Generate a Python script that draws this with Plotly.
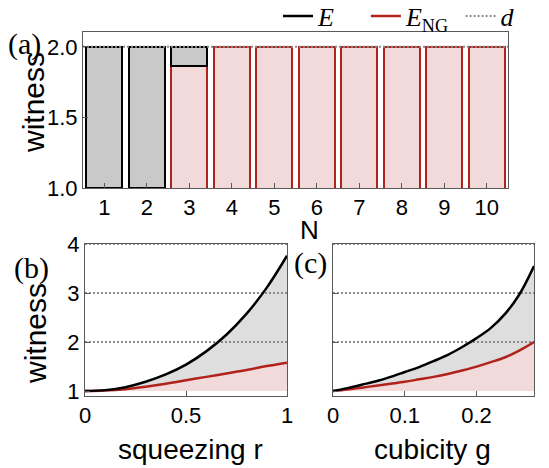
import plotly.graph_objects as go

# ---------------- data ----------------
N = [1, 2, 3, 4, 5, 6, 7, 8, 9, 10]
N_labels = ["1", "2", "3", "4", "5", "6", "7", "8", "9", "10"]
E_bar = [2.0, 2.0, 2.0, 2.0, 2.0, 2.0, 2.0, 2.0, 2.0, 2.0]
ENG_bar = [1.0, 1.0, 1.865, 2.0, 2.0, 2.0, 2.0, 2.0, 2.0, 2.0]
d_a = 2

r = [0.0, 0.1, 0.2, 0.3, 0.4, 0.5, 0.6, 0.7, 0.8, 0.9, 1.0]
E_r = [1.00, 1.02, 1.08, 1.19, 1.34, 1.54, 1.81, 2.15, 2.58, 3.11, 3.76]
ENG_r = [1.00, 1.01, 1.04, 1.09, 1.15, 1.22, 1.29, 1.36, 1.43, 1.51, 1.58]

g = [0.0, 0.02, 0.04, 0.06, 0.08, 0.10, 0.12, 0.14, 0.16, 0.18, 0.20, 0.22, 0.24, 0.26, 0.28]
E_g = [1.00, 1.06, 1.13, 1.20, 1.29, 1.39, 1.49, 1.61, 1.74, 1.90, 2.08, 2.29, 2.58, 2.98, 3.55]
ENG_g = [1.00, 1.03, 1.07, 1.11, 1.15, 1.19, 1.24, 1.29, 1.35, 1.42, 1.50, 1.59, 1.69, 1.83, 2.00]

d_levels = [2, 3, 4]
witness_min = 1

# ---------------- style ----------------
W, H = 549, 468
BLACK = "#000000"
RED = "#b0221b"
GRAY_BAR = "#c9c9c9"
GRAY_FILL = "#dedede"
PINK = "#f2dada"
DOT = "#8a8a8a"
FRAME = "#5a5a5a"
SANS = "Liberation Sans, Arial, sans-serif"
SERIF = "Liberation Serif, Times New Roman, serif"
NB = "\u00a0"


def px(x):
    return x / W


def py(y):
    return 1 - y / H


fig = go.Figure()

# ----- panel (a): bars -----
red_line_w = [0 if v <= witness_min else 2 for v in ENG_bar]
gray_heights = [e - n for e, n in zip(E_bar, ENG_bar)]
gray_line_w = [2 if h > 0 else 0 for h in gray_heights]

fig.add_trace(go.Bar(
    x=N, y=ENG_bar, base=0, width=0.84,
    marker=dict(color=PINK, line=dict(color=RED, width=red_line_w)),
    xaxis="x", yaxis="y", showlegend=False, hoverinfo="skip"))
fig.add_trace(go.Bar(
    x=N, y=gray_heights, base=ENG_bar, width=0.84,
    marker=dict(color=GRAY_BAR, line=dict(color=BLACK, width=gray_line_w)),
    xaxis="x", yaxis="y", showlegend=False, hoverinfo="skip"))
fig.add_trace(go.Scatter(
    x=[N[0] - 0.5, N[-1] + 0.5], y=[d_a, d_a], mode="lines",
    line=dict(color=DOT, width=2, dash="2px,2px"),
    xaxis="x", yaxis="y", name="<i>d</i>", legendrank=3, showlegend=True,
    cliponaxis=False))

# ----- panels (b) and (c): curves -----
def curve_panel(xv, Ev, Nv, xa, ya, legend):
    # fills
    fig.add_trace(go.Scatter(
        x=xv, y=[witness_min] * len(xv), mode="lines",
        line=dict(width=0, color=PINK), xaxis=xa, yaxis=ya,
        showlegend=False, hoverinfo="skip"))
    fig.add_trace(go.Scatter(
        x=xv, y=Nv, mode="lines", fill="tonexty", fillcolor=PINK,
        line=dict(color=RED, width=0, shape="spline", smoothing=1),
        xaxis=xa, yaxis=ya, showlegend=False, hoverinfo="skip"))
    fig.add_trace(go.Scatter(
        x=xv, y=Ev, mode="lines", fill="tonexty", fillcolor=GRAY_FILL,
        line=dict(color=BLACK, width=0, shape="spline", smoothing=1),
        xaxis=xa, yaxis=ya, showlegend=False, hoverinfo="skip"))
    # dimension lines d
    dx, dy = [], []
    for lv in d_levels:
        dx += [xv[0], xv[-1], None]
        dy += [lv, lv, None]
    fig.add_trace(go.Scatter(
        x=dx, y=dy, mode="lines", line=dict(color=DOT, width=2, dash="2px,2px"),
        xaxis=xa, yaxis=ya, showlegend=False, hoverinfo="skip", cliponaxis=False))
    # curves on top
    fig.add_trace(go.Scatter(
        x=xv, y=Nv, mode="lines",
        line=dict(color=RED, width=2.5, shape="spline", smoothing=1),
        xaxis=xa, yaxis=ya, name="<i>E</i><sub>NG</sub>" + NB,
        legendrank=2, showlegend=legend))
    fig.add_trace(go.Scatter(
        x=xv, y=Ev, mode="lines",
        line=dict(color=BLACK, width=2.5, shape="spline", smoothing=1),
        xaxis=xa, yaxis=ya, name="<i>E</i>" + NB * 4,
        legendrank=1, showlegend=legend))


curve_panel(r, E_r, ENG_r, "x2", "y2", True)
curve_panel(g, E_g, ENG_g, "x3", "y3", False)

axis_common = dict(showline=True, linecolor=FRAME, linewidth=1, mirror=True,
                   ticks="inside", ticklen=5, tickcolor=FRAME, tickwidth=1,
                   showgrid=False, zeroline=False, automargin=False,
                   tickfont=dict(family=SANS, size=22, color="#000"))

fig.update_layout(
    width=W, height=H, autosize=False,
    margin=dict(l=0, r=0, t=0, b=0, autoexpand=False),
    paper_bgcolor="white", plot_bgcolor="white",
    barmode="overlay", bargap=0,
    showlegend=True,
    legend=dict(orientation="h", x=px(278), xanchor="left", y=py(16), yanchor="middle",
                font=dict(family=SERIF, size=26, color="#000"),
                bgcolor="rgba(0,0,0,0)", itemwidth=30, tracegroupgap=0,
                traceorder="normal"),
    xaxis=dict(domain=[px(83), px(508)], range=[0.5, 10.5], tickvals=N,
               ticktext=N_labels, anchor="y", **axis_common),
    yaxis=dict(domain=[py(188), py(32)], range=[1, 2.105], tickvals=[1, 1.5, 2],
               ticktext=["1.0", "1.5", "2.0"], anchor="x", **axis_common),
    xaxis2=dict(domain=[px(85), px(287)], range=[0, 1], tickvals=[0, 0.5, 1],
                ticktext=["0", "0.5", "1"], anchor="y2", **axis_common),
    yaxis2=dict(domain=[py(396), py(244)], range=[0.9, 4], tickvals=[1, 2, 3, 4],
                ticktext=["1", "2", "3", "4"], anchor="x2", **axis_common),
    xaxis3=dict(domain=[px(333), px(534)], range=[0, 0.28], tickvals=[0, 0.1, 0.2],
                ticktext=["0", "0.1", "0.2"], anchor="y3", **axis_common),
    yaxis3=dict(domain=[py(396), py(244)], range=[0.9, 4], tickvals=[1, 2, 3, 4],
                showticklabels=False, anchor="x3", **axis_common),
)

ann_sans = dict(family=SANS, size=28, color="#000")
ann_serif = dict(family=SERIF, size=30, color="#000")
annotations = [
    dict(text="witness", x=px(33), y=py(103), textangle=-90, font=dict(family=SANS, size=30, color="#000")),
    dict(text="witness", x=px(35), y=py(334), textangle=-90, font=dict(family=SANS, size=30, color="#000")),
    dict(text="N", x=px(309), y=py(230), font=dict(family=SANS, size=26, color="#000")),
    dict(text="squeezing r", x=px(190), y=py(449), font=ann_sans),
    dict(text="cubicity g", x=px(432), y=py(449), font=ann_sans),
    dict(text="(a)", x=px(24), y=py(44), font=ann_serif),
    dict(text="(b)", x=px(31), y=py(268), font=ann_serif),
    dict(text="(c)", x=px(310), y=py(263), font=ann_serif),
]
for a in annotations:
    a.update(xref="paper", yref="paper", showarrow=False, xanchor="center", yanchor="middle")
fig.update_layout(annotations=annotations)

fig.write_html("out.html", config={"displayModeBar": False},
               post_script="document.body.style.margin='0';document.body.style.overflow='hidden';")
